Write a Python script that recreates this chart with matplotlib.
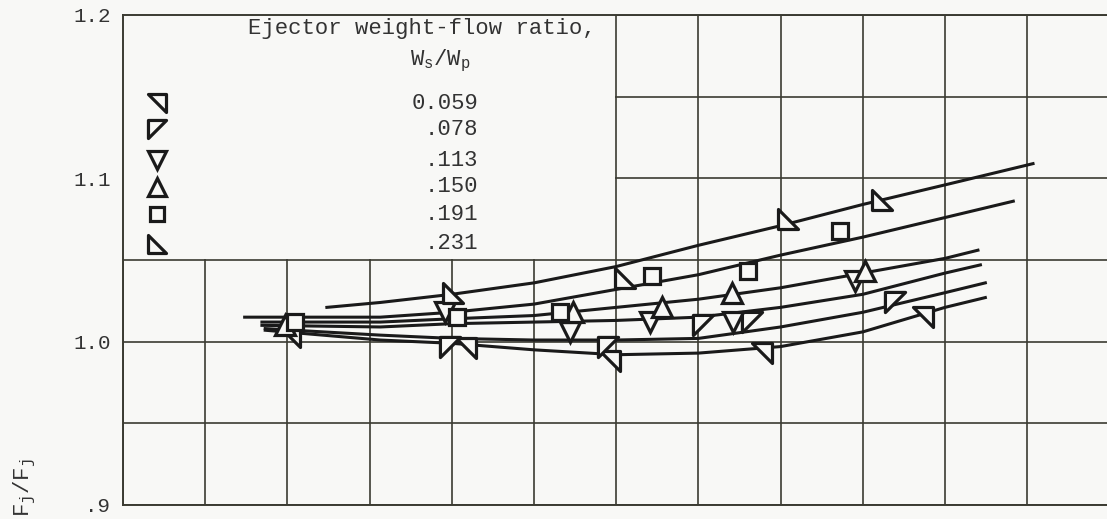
import matplotlib.pyplot as plt
from matplotlib.path import Path
from matplotlib.patches import Rectangle

plt.rcParams['font.family'] = ['Liberation Mono', 'DejaVu Sans Mono']
plt.rcParams['mathtext.fontset'] = 'custom'
plt.rcParams['mathtext.rm'] = 'Liberation Mono'
plt.rcParams['mathtext.it'] = 'Liberation Mono'

# weight-flow ratios (legend labels)
ratio_labels = ['0.059', '.078', '.113', '.150', '.191', '.231']

# faired curves, one per ratio (x in grid units)
c059_x = [1.73, 3.13, 4.0, 5.0, 6.0, 7.0, 8.0, 9.0, 10.0, 10.49]
c059_y = [1.007, 1.001, 0.999, 0.995, 0.992, 0.993, 0.997, 1.006, 1.021, 1.027]
c078_x = [1.73, 3.13, 4.0, 5.0, 6.0, 7.0, 8.0, 9.0, 10.0, 10.49]
c078_y = [1.008, 1.004, 1.002, 1.001, 1.001, 1.002, 1.009, 1.018, 1.030, 1.036]
c113_x = [1.69, 3.13, 4.0, 5.0, 6.0, 7.0, 8.0, 9.0, 10.0, 10.43]
c113_y = [1.010, 1.009, 1.011, 1.012, 1.013, 1.015, 1.021, 1.029, 1.042, 1.047]
c150_x = [1.69, 3.13, 4.0, 5.0, 6.0, 7.0, 8.0, 9.0, 10.0, 10.40]
c150_y = [1.012, 1.012, 1.014, 1.016, 1.021, 1.026, 1.033, 1.042, 1.051, 1.056]
c191_x = [1.48, 2.03, 3.13, 4.0, 5.0, 6.0, 7.0, 8.0, 9.0, 10.0, 10.83]
c191_y = [1.015, 1.015, 1.015, 1.018, 1.023, 1.032, 1.041, 1.053, 1.064, 1.076, 1.086]
c231_x = [2.48, 3.13, 4.0, 5.0, 6.0, 7.0, 8.0, 9.0, 10.0, 11.07]
c231_y = [1.021, 1.024, 1.029, 1.036, 1.046, 1.059, 1.071, 1.084, 1.096, 1.109]

# test points
p059_x = [2.03, 4.17, 5.92, 7.77, 9.73]
p059_y = [1.003, 0.996, 0.988, 0.993, 1.015]
p078_x = [3.98, 5.90, 7.06, 7.65, 9.39]
p078_y = [0.997, 0.997, 1.010, 1.012, 1.024]
p113_x = [3.92, 5.44, 6.41, 7.42, 8.91]
p113_y = [1.018, 1.006, 1.012, 1.012, 1.037]
p150_x = [1.97, 5.47, 6.56, 7.41, 9.03]
p150_y = [1.010, 1.018, 1.021, 1.030, 1.043]
p191_x = [2.09, 4.06, 5.32, 6.44, 7.60, 8.72]
p191_y = [1.012, 1.015, 1.018, 1.040, 1.043, 1.068]
p231_x = [4.01, 6.11, 8.09, 9.23]
p231_y = [1.030, 1.039, 1.075, 1.087]

curves = [(c059_x, c059_y), (c078_x, c078_y), (c113_x, c113_y),
          (c150_x, c150_y), (c191_x, c191_y), (c231_x, c231_y)]
points = [(p059_x, p059_y), (p078_x, p078_y), (p113_x, p113_y),
          (p150_x, p150_y), (p191_x, p191_y), (p231_x, p231_y)]

# right-triangle symbols
tri_tr = Path([(-1, 1), (1, 1), (1, -1), (-1, 1)], closed=True)
tri_tl = Path([(-1, 1), (1, 1), (-1, -1), (-1, 1)], closed=True)
tri_bl = Path([(-1, 1), (-1, -1), (1, -1), (-1, 1)], closed=True)
markers = [tri_tr, tri_tl, 'v', '^', 's', tri_bl]
msizes = [14.5, 14.5, 14, 14, 12, 14.5]

bg = '#f8f8f6'
ink = '#1a1a1a'
gridc = '#3b3b32'

fig = plt.figure(figsize=(11.07, 5.19), dpi=100, facecolor=bg)
ax = fig.add_axes([123 / 1107, 14 / 519, 1 - 123 / 1107, 490 / 519])
ax.set_facecolor(bg)
ax.set_xlim(0, 11.97)
ax.set_ylim(0.9, 1.2)

ax.set_xticks(range(0, 12))
ax.set_xticklabels([])
ax.set_yticks([0.9, 0.95, 1.0, 1.05, 1.1, 1.15, 1.2])
ax.set_yticklabels(['.9', '', '1.0', '', '1.1', '', '1.2'])
ax.tick_params(length=0, pad=9, labelsize=15, labelcolor='#333333')
ax.grid(True, color=gridc, lw=1.2, zorder=0)
ax.set_axisbelow(True)
for s in ['left', 'bottom', 'top']:
    ax.spines[s].set_color(gridc)
    ax.spines[s].set_linewidth(1.4)
ax.spines['right'].set_visible(False)

# blank key area in upper left
ax.add_patch(Rectangle((0, 1.0505), 5.99, 0.15, facecolor=bg, edgecolor='none', zorder=1))

for (cx, cy) in curves:
    ax.plot(cx, cy, color=ink, lw=2.2, zorder=3)
for (px, py), m, ms in zip(points, markers, msizes):
    ax.plot(px, py, ls='none', marker=m, ms=ms, mfc=bg, mec=ink, mew=2.3, zorder=4)

# key
ax.text(3.64, 1.192, 'Ejector weight-flow ratio,', ha='center', va='center',
        fontsize=16, color='#333333', zorder=5)
ax.text(3.86, 1.172, r'$\mathrm{W_s/W_p}$', ha='center', va='center',
        fontsize=16, color='#333333', zorder=5)
key_y = [1.146, 1.130, 1.111, 1.095, 1.078, 1.060]
for ky, lab, m, ms in zip(key_y, ratio_labels, markers, msizes):
    ax.plot([0.41], [ky], ls='none', marker=m, ms=ms - 1.5, mfc=bg, mec=ink, mew=2.3, zorder=5)
    ax.text(4.32, ky, lab, ha='right', va='center', fontsize=16, color='#333333', zorder=5)

# y-axis label
fig.text(25 / 1107, 2 / 519, r'$\mathrm{F_j/F_j}$', rotation=90,
         ha='center', va='bottom', fontsize=16, color='#333333')

fig.savefig('out.png', dpi=100, facecolor=bg)
